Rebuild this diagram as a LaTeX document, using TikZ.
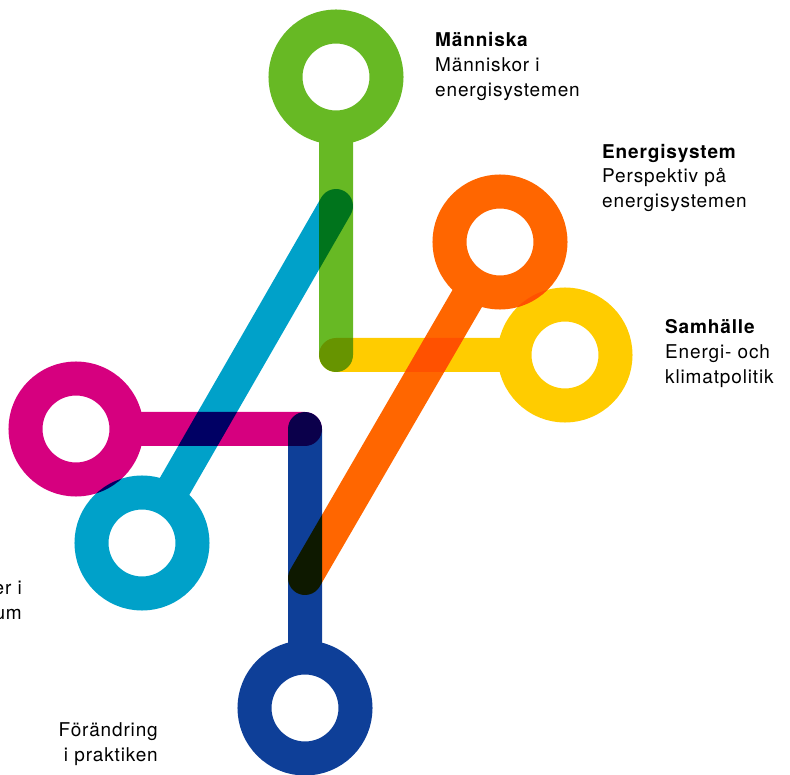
\documentclass[tikz,border=0pt]{standalone}
\usepackage{fontspec}
\setmainfont{TeX Gyre Heros}[LetterSpace=4.5]
\usetikzlibrary{calc}
\definecolor{cgreen}{RGB}{103,185,36}
\definecolor{corange}{RGB}{255,102,0}
\definecolor{cyellow}{RGB}{255,204,0}
\definecolor{cmagenta}{RGB}{214,0,127}
\definecolor{ccyan}{RGB}{0,161,201}
\definecolor{cblue}{RGB}{14,63,152}
\tikzset{
  link/.style={line width=34pt, line cap=round, blend mode=multiply},
  lbl/.style={anchor=base west, inner sep=0pt, font=\fontsize{19}{23}\selectfont},
  lblr/.style={anchor=base east, inner sep=0pt, font=\fontsize{19}{23}\selectfont},
}
\begin{document}
\begin{tikzpicture}[x=1pt,y=-1pt]
\useasboundingbox (0,0) rectangle (790,775);
% ring centres
\coordinate (G) at (336,77);
\coordinate (O) at (500,242);
\coordinate (Y) at (565,355);
\coordinate (M) at (76,429);
\coordinate (C) at (142,543);
\coordinate (B) at (305,708);
% free ends of the links
\coordinate (Gend) at (336,355);
\coordinate (Yend) at (336,355);
\coordinate (Cend) at (336,206);
\coordinate (Oend) at (305,578);
\coordinate (Mend) at (305,429);
\coordinate (Bend) at (305,429);
% each colour: ring and link in one stroke
\draw[link, cgreen]   (G) circle[radius=50.5] ($(G)!60pt!(Gend)$) -- (Gend);
\draw[link, cyellow]  (Y) circle[radius=50.5] ($(Y)!60pt!(Yend)$) -- (Yend);
\draw[link, corange]  (O) circle[radius=50.5] ($(O)!60pt!(Oend)$) -- (Oend);
\draw[link, cmagenta] (M) circle[radius=50.5] ($(M)!60pt!(Mend)$) -- (Mend);
\draw[link, ccyan]    (C) circle[radius=50.5] ($(C)!60pt!(Cend)$) -- (Cend);
\draw[link, cblue]    (B) circle[radius=50.5] ($(B)!60pt!(Bend)$) -- (Bend);
% labels
\node[lbl] (t1a) at (435,47) {\bfseries Människa};
\node[lbl] (t1b) at (435,72) {Människor i};
\node[lbl] (t1c) at (435,96.5) {energisystemen};
\node[lbl] (t2a) at (602,158.5) {\bfseries Energisystem};
\node[lbl] (t2b) at (602,183) {Perspektiv på};
\node[lbl] (t2c) at (602,208) {energisystemen};
\node[lbl] (t3a) at (665,334) {\bfseries Samhälle};
\node[lbl] (t3b) at (665,359) {Energi- och};
\node[lbl] (t3c) at (665,384) {klimatpolitik};
\node[lblr] (t4a) at (22,594) {er i};
\node[lblr] (t4b) at (22,619) {um};
\node[lblr] (t5a) at (158,736.5) {Förändring};
\node[lblr] (t5b) at (158,761.5) {i praktiken};
\end{tikzpicture}
\end{document}
